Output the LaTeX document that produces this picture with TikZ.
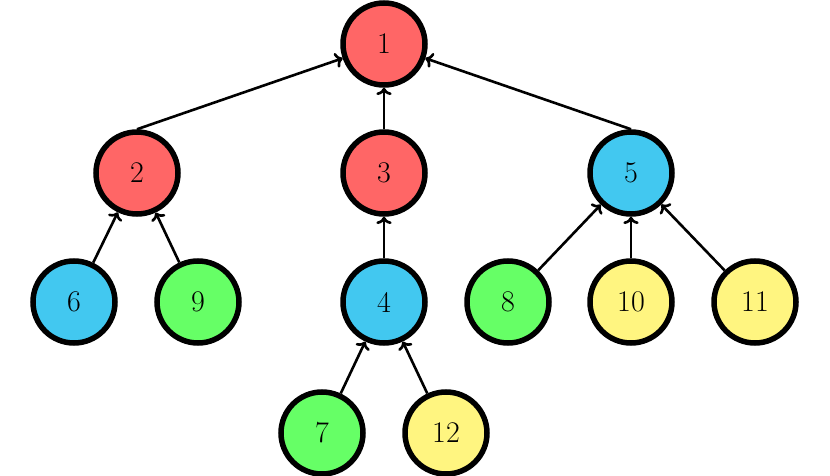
\documentclass[tikz,border=0pt]{standalone}
\usetikzlibrary{arrows.meta}
\definecolor{cred}{RGB}{255,102,102}
\definecolor{cblue}{RGB}{66,200,240}
\definecolor{cgreen}{RGB}{102,255,102}
\definecolor{cyellow}{RGB}{255,245,128}
\begin{document}
\begin{tikzpicture}[x=1pt,y=-1pt,
  vnode/.style={circle,draw=black,line width=5.5pt,minimum size=82pt,inner sep=0pt,font=\fontsize{30}{32}\selectfont},
  arr/.style={->,line width=2.6pt}]
\useasboundingbox (0,0) rectangle (830,476);
\node[vnode,fill=cred] (n1) at (384,44) {1};
\node[vnode,fill=cred] (n2) at (137,173) {2};
\node[vnode,fill=cred] (n3) at (384,173) {3};
\node[vnode,fill=cblue] (n5) at (631,173) {5};
\node[vnode,fill=cblue] (n6) at (74,302) {6};
\node[vnode,fill=cgreen] (n9) at (198,302) {9};
\node[vnode,fill=cblue] (n4) at (384,302) {4};
\node[vnode,fill=cgreen] (n8) at (508,302) {8};
\node[vnode,fill=cyellow] (n10) at (631,302) {10};
\node[vnode,fill=cyellow] (n11) at (755,302) {11};
\node[vnode,fill=cgreen] (n7) at (322,433) {7};
\node[vnode,fill=cyellow] (n12) at (446,433) {12};
\draw[arr] (n2.north) -- (n1);
\draw[arr] (n3) -- (n1);
\draw[arr] (n5.north) -- (n1);
\draw[arr] (n6) -- (n2);
\draw[arr] (n9) -- (n2);
\draw[arr] (n4) -- (n3);
\draw[arr] (n8) -- (n5);
\draw[arr] (n10) -- (n5);
\draw[arr] (n11) -- (n5);
\draw[arr] (n7) -- (n4);
\draw[arr] (n12) -- (n4);
\end{tikzpicture}
\end{document}
